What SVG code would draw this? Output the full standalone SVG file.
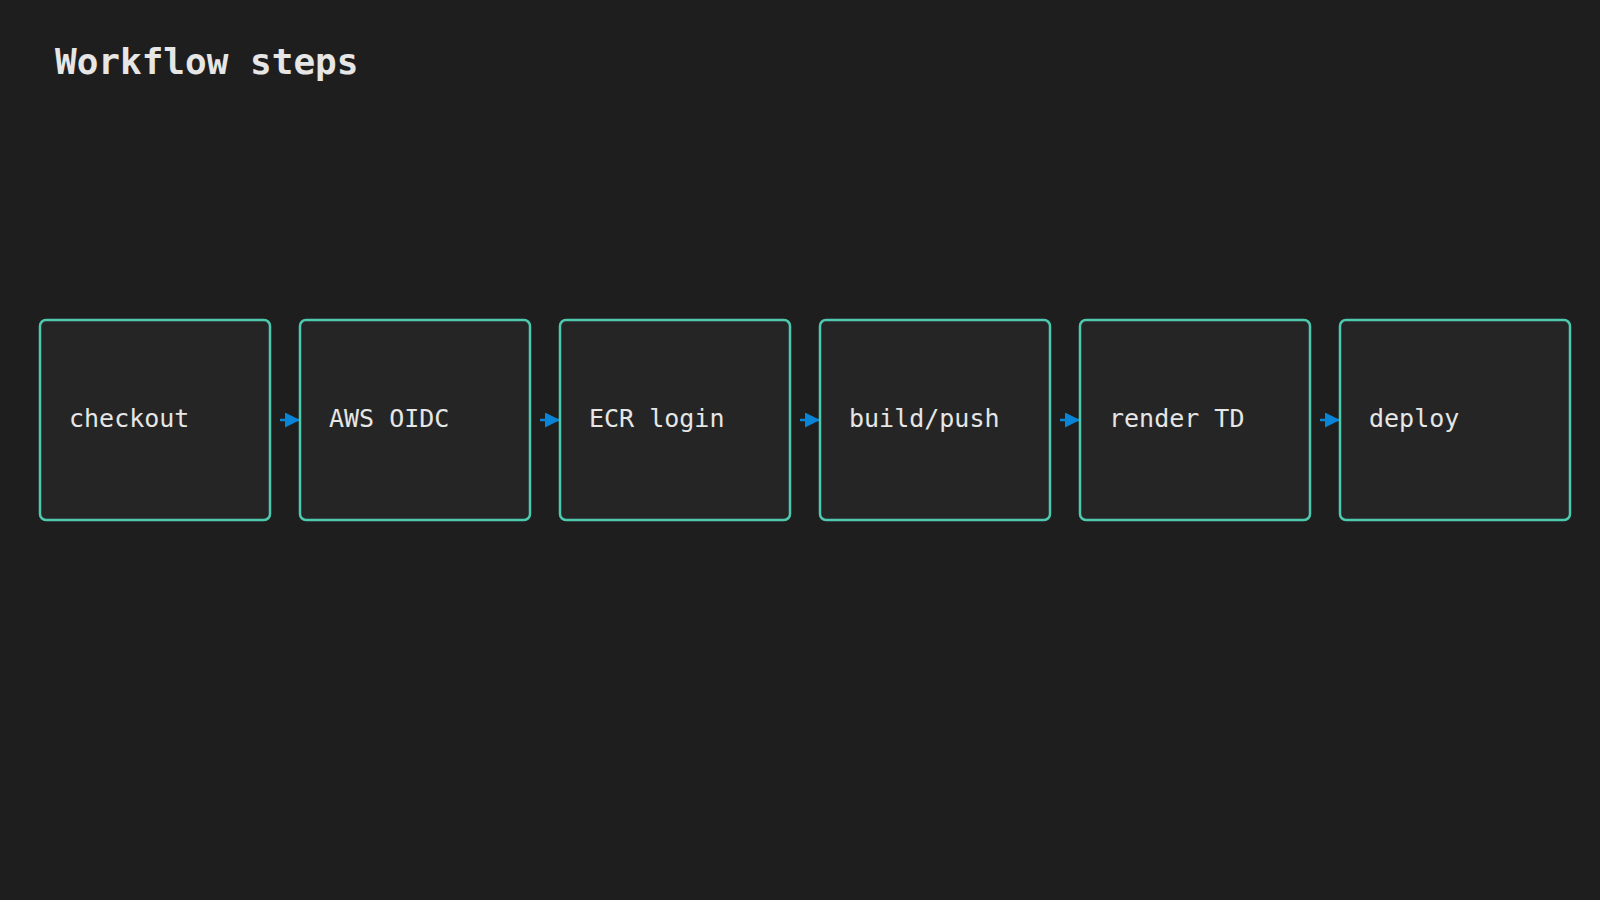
<svg xmlns="http://www.w3.org/2000/svg" width="1600" height="900" viewBox="0 0 1600 900">
<style>
.box{fill:#252525;stroke:#4ec9b0;stroke-width:2.5}
.lbl{font-family:"DejaVu Sans Mono",monospace;font-size:25px;fill:#e6e6e6}
.title{font-family:"DejaVu Sans Mono",monospace;font-size:36px;font-weight:bold;fill:#e6e6e6}
.c{stroke:#0a84d6;stroke-width:2.5}
</style>
<defs><marker id="ah" viewBox="0 0 10 10" refX="10" refY="5" markerWidth="6" markerHeight="6" orient="auto" markerUnits="strokeWidth"><path d="M0,0L10,5L0,10z" fill="#0a84d6"/></marker></defs>
<rect width="1600" height="900" fill="#1e1e1e"/>
<text class="title" x="55" y="74">Workflow steps</text>
<g id="connectors">
<line class="c" x1="280" y1="420" x2="300" y2="420" marker-end="url(#ah)"/>
<line class="c" x1="540" y1="420" x2="560" y2="420" marker-end="url(#ah)"/>
<line class="c" x1="800" y1="420" x2="820" y2="420" marker-end="url(#ah)"/>
<line class="c" x1="1060" y1="420" x2="1080" y2="420" marker-end="url(#ah)"/>
<line class="c" x1="1320" y1="420" x2="1340" y2="420" marker-end="url(#ah)"/>
</g>
<g id="n1"><rect class="box" x="40" y="320" width="230" height="200" rx="6"/><text class="lbl" x="69" y="427">checkout</text></g>
<g id="n2"><rect class="box" x="300" y="320" width="230" height="200" rx="6"/><text class="lbl" x="329" y="427">AWS OIDC</text></g>
<g id="n3"><rect class="box" x="560" y="320" width="230" height="200" rx="6"/><text class="lbl" x="589" y="427">ECR login</text></g>
<g id="n4"><rect class="box" x="820" y="320" width="230" height="200" rx="6"/><text class="lbl" x="849" y="427">build/push</text></g>
<g id="n5"><rect class="box" x="1080" y="320" width="230" height="200" rx="6"/><text class="lbl" x="1109" y="427">render TD</text></g>
<g id="n6"><rect class="box" x="1340" y="320" width="230" height="200" rx="6"/><text class="lbl" x="1369" y="427">deploy</text></g>
</svg>
